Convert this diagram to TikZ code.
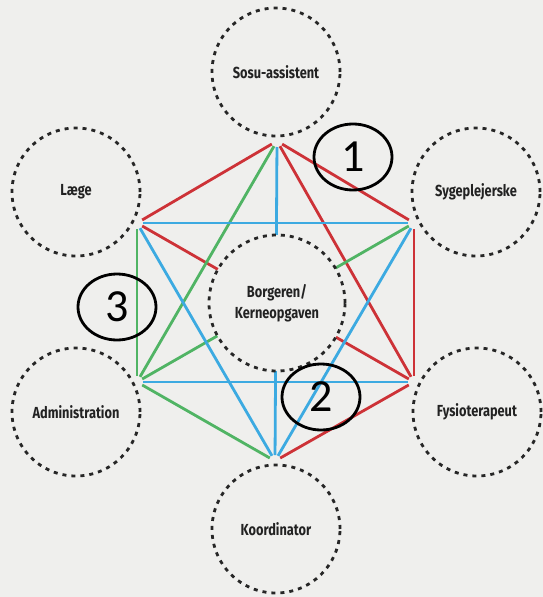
\documentclass[tikz,border=0pt]{standalone}
\usepackage{fontspec}
\newfontfamily\lblfont[FakeStretch=0.8]{Fira Sans}
\newfontfamily\numfont{Carlito}
\definecolor{bg}{HTML}{EFEFED}
\definecolor{linkred}{HTML}{CD3237}
\definecolor{linkblue}{HTML}{3CAAE1}
\definecolor{linkgreen}{HTML}{50B464}
\definecolor{lbl}{HTML}{222222}
\tikzset{
  role/.style={circle, minimum size=128pt, inner sep=0pt, fill=bg,
    draw=black!85, line width=2.8pt, dash pattern=on 4pt off 5pt,
    text=lbl, font=\lblfont\bfseries\fontsize{16}{21.5}\selectfont, align=center},
  link/.style={line width=2.8pt, shorten <=6pt, shorten >=6pt},
  redlink/.style={link, draw=linkred},
  bluelink/.style={link, draw=linkblue},
  greenlink/.style={link, draw=linkgreen},
  marker/.style={ellipse, draw=black, line width=2.8pt, minimum width=78pt,
    minimum height=66pt, inner sep=0pt, font=\numfont\fontsize{46}{46}\selectfont}
}
\usetikzlibrary{shapes.geometric}
\begin{document}
\begin{tikzpicture}[x=1pt,y=-1pt]
\fill[bg] (0,0) rectangle (543,597);
\useasboundingbox (0,0) rectangle (543,597);

% corners of the hexagon of links
\coordinate (T)  at (277,141);
\coordinate (UR) at (414,223);
\coordinate (LR) at (414,382);
\coordinate (B)  at (275,461);
\coordinate (LL) at (137,382);
\coordinate (UL) at (137,223);

% red links
\draw[redlink] (T) -- (UR);
\draw[redlink] (UR) -- (LR);
\draw[redlink] (LR) -- (B);
\draw[redlink] (UL) -- (T);
\draw[redlink] (T) -- (LR);
\draw[redlink] (UL) -- (LR);
% green links
\draw[greenlink] (LL) -- (UL);
\draw[greenlink] (LL) -- (T);
\draw[greenlink] (LL) -- (UR);
\draw[greenlink] (LL) -- (B);
% blue links
\draw[bluelink] (UL) -- (UR);
\draw[bluelink] (LL) -- (LR);
\draw[bluelink] (UL) -- (B);
\draw[bluelink] (UR) -- (B);
\draw[bluelink] (T) -- (B);

% roles
\node[role] (sosu)   at (276,72)  {Sosu-assistent};
\node[role] (laege)  at (76,192)  {Læge};
\node[role] (syge)   at (476,192) {Sygeplejerske};
\node[role, minimum size=136pt] (borger) at (277,303) {Borgeren/\\Kerneopgaven};
\node[role] (admin)  at (76,412)  {Administration};
\node[role] (fysio)  at (477,412) {Fysioterapeut};
\node[role] (koord)  at (276,529) {Koordinator};

% numbered markers
\node[marker] (m1) at (353,157) {1};
\node[marker] (m2) at (321,397) {2};
\node[marker] (m3) at (117,307) {3};
\end{tikzpicture}
\end{document}
